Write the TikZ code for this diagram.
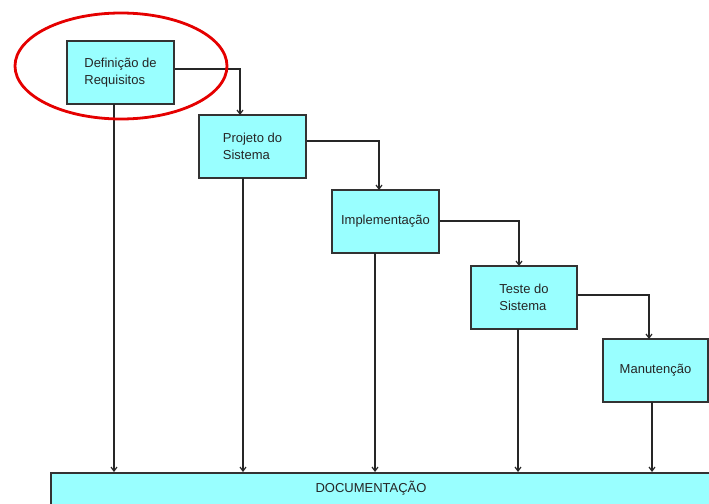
\documentclass[tikz,border=0pt]{standalone}
\usepackage{fontspec}
\setmainfont{Liberation Sans}
\usetikzlibrary{arrows.meta}
\begin{document}
\begin{tikzpicture}[x=1pt,y=-1pt,
  phase/.style={draw=black!80, line width=1.5pt, fill=cyanbox, inner sep=0pt,
    font=\fontsize{13}{16.5}\selectfont, text=black!85, align=left},
  flow/.style={draw=black!85, line width=1.2pt, -{Straight Barb[length=4pt,width=6pt]}}]
\definecolor{cyanbox}{RGB}{153,255,255}
\useasboundingbox (0,0) rectangle (709,503);
\clip (0,0) rectangle (709,503);

% phases of the waterfall
\node[phase, minimum width=107pt, minimum height=63pt] (req) at (120.5,72.5) {Definição de\\Requisitos};
\node[phase, minimum width=107pt, minimum height=63pt] (proj) at (252.5,146.5) {Projeto do\\Sistema};
\node[phase, minimum width=107pt, minimum height=63pt] (impl) at (385.5,221.5) {Implementação};
\node[phase, minimum width=106pt, minimum height=63pt] (test) at (524,297.5) {Teste do\\Sistema};
\node[phase, minimum width=105pt, minimum height=63pt] (man) at (655.5,370.5) {Manutenção};

% documentation bar along the bottom
\node[phase, minimum width=680pt, minimum height=50pt, anchor=north west] (doc) at (50,472) {};
\node[font=\fontsize{13}{16}\selectfont, text=black!85] (doctxt) at (371,488.5) {DOCUMENTAÇÃO};

% step connectors
\draw[flow] (req.east |- 0,69) -| (240,115);
\draw[flow] (proj.east |- 0,141) -| (379,190);
\draw[flow] (impl.east |- 0,221) -| (519,266);
\draw[flow] (test.east |- 0,295) -| (649,339);

% drops to the documentation bar
\draw[flow] (114,104) -- (114,472);
\draw[flow] (243,178) -- (243,472);
\draw[flow] (375,253) -- (375,472);
\draw[flow] (518,329) -- (518,472);
\draw[flow] (652,402) -- (652,472);

% highlight around the first phase
\draw[red!90!black, line width=2.8pt] (121,66) ellipse [x radius=106, y radius=53];
\end{tikzpicture}
\end{document}
